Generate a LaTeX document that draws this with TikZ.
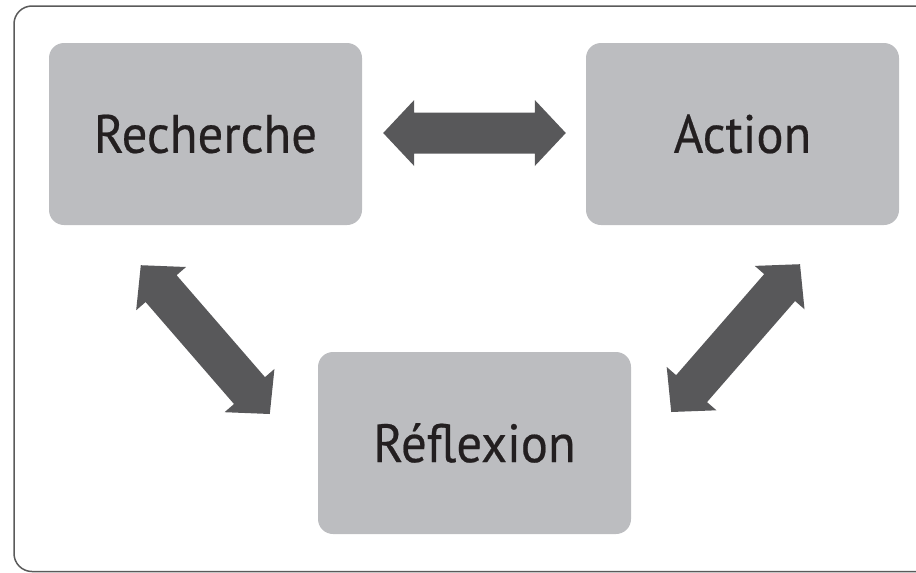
\documentclass[tikz,border=0pt]{standalone}
\usepackage{fontspec}
\usetikzlibrary{calc}
\newfontfamily\boxfont[FakeStretch=0.94,FakeBold=0.4]{PT Sans}
\definecolor{boxgray}{HTML}{BCBDC0}
\definecolor{arrowgray}{HTML}{58585A}
\definecolor{framegray}{HTML}{5A5A5A}
\definecolor{textblack}{HTML}{231F20}
\tikzset{box/.style={fill=boxgray, rounded corners=15pt, minimum width=313pt, minimum height=182pt, inner sep=0pt, text=textblack, font=\boxfont\fontsize{54}{60}\selectfont}}
\newcommand{\dblarrow}[2]{
\fill[arrowgray] (#1) -- ($(#1)!31pt!(#2)!33pt!90:(#2)$) -- ($(#1)!31pt!(#2)!20.5pt!90:(#2)$)
 -- ($(#2)!31pt!(#1)!20.5pt!-90:(#1)$) -- ($(#2)!31pt!(#1)!33pt!-90:(#1)$) -- (#2)
 -- ($(#2)!31pt!(#1)!33pt!90:(#1)$) -- ($(#2)!31pt!(#1)!20.5pt!90:(#1)$)
 -- ($(#1)!31pt!(#2)!20.5pt!-90:(#2)$) -- ($(#1)!31pt!(#2)!33pt!-90:(#2)$) -- cycle;}
\begin{document}
\begin{tikzpicture}[x=1pt,y=-1pt]
\useasboundingbox (0,0) rectangle (916,573);
\clip (0,0) rectangle (916,573);
\draw[framegray, line width=1.5pt, rounded corners=18pt] (14,6) rectangle (940,571.5);

\node[box] (rech) at (205.5,134) {Recherche};
\node[box] (act) at (742.5,134) {Action};
\node[box] (refl) at (474.5,443) {Réflexion};

\coordinate (h1) at ($(rech.east)+(21,-1)$);
\coordinate (h2) at ($(act.west)+(-20,-1)$);
\coordinate (l1) at ($(rech.south west)+(92,40)$);
\coordinate (l2) at ($(refl.west)+(-48,-29)$);
\coordinate (r1) at ($(act.south)+(57.5,39)$);
\coordinate (r2) at ($(refl.east)+(40,-31)$);

\dblarrow{h1}{h2}
\dblarrow{l1}{l2}
\dblarrow{r1}{r2}
\end{tikzpicture}
\end{document}
